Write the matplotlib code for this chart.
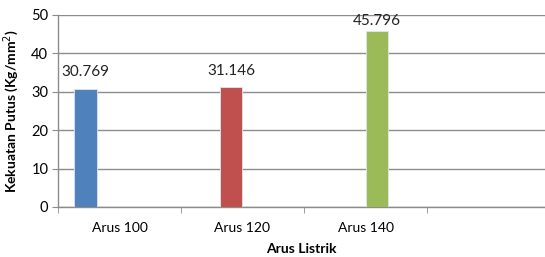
import matplotlib
matplotlib.use("Agg")
import matplotlib.pyplot as plt
import numpy as np

categories = ["Arus 100", "Arus 120", "Arus 140", ""]
series_names = ["Arus 100", "Arus 120", "Arus 140"]
series_values = [30.769, 31.146, 45.796]
series_colors = ["#4F81BD", "#C0504D", "#9BBB59"]
value_labels = ["30.769", "31.146", "45.796"]

plt.rcParams['font.family'] = ['Lato', 'DejaVu Sans']

W, H = 545, 257
fig = plt.figure(figsize=(W/100, H/100), dpi=100)
left, right, top, bottom = 58, 545, 15, 207
ax = fig.add_axes([left/W, 1-bottom/H, (right-left)/W, (bottom-top)/H])

n_series = 4
bw = 0.183
label_gap_px = [10, 9, 3]
x = np.arange(len(categories))
for i, (v, c, lab) in enumerate(zip(series_values, series_colors, value_labels)):
    pos = x[i] + (i - (n_series-1)/2) * bw
    ax.bar(pos, v, width=bw, color=c, edgecolor='#dfe6f0', linewidth=0.6, zorder=3)
    ax.annotate(lab, (pos, v), xytext=(0, label_gap_px[i]*0.72), textcoords='offset points',
                ha='center', va='bottom', fontsize=11, color='#222222')

ax.set_xlim(-0.5, -0.5 + (right-left)/123)
ax.set_ylim(0, 50)
ax.set_yticks(range(0, 51, 10))
ax.yaxis.grid(True, color='#8c8c8c', linewidth=1.0, zorder=0)
ax.set_axisbelow(True)

ax.set_xticks(x)
ax.set_xticklabels(categories, fontsize=10)
ax.set_xticks(np.arange(-0.5, 3.0, 1.0), minor=True)
ax.tick_params(axis='x', which='major', length=0, pad=11)
ax.tick_params(axis='x', which='minor', length=4, color='#8c8c8c', direction='out')
ax.tick_params(axis='y', length=4, color='#8c8c8c', labelsize=10.5, pad=3)

for s in ['top', 'right']:
    ax.spines[s].set_visible(False)
for s in ['left', 'bottom']:
    ax.spines[s].set_color('#8c8c8c')
    ax.spines[s].set_linewidth(1.0)

ax.set_ylabel("Kekuatan Putus (Kg/mm$^{2}$)", fontsize=10, fontweight='bold', labelpad=7)
ax.set_xlabel("Arus Listrik", fontsize=10, fontweight='bold', labelpad=6)

fig.savefig("out.png", dpi=100)
